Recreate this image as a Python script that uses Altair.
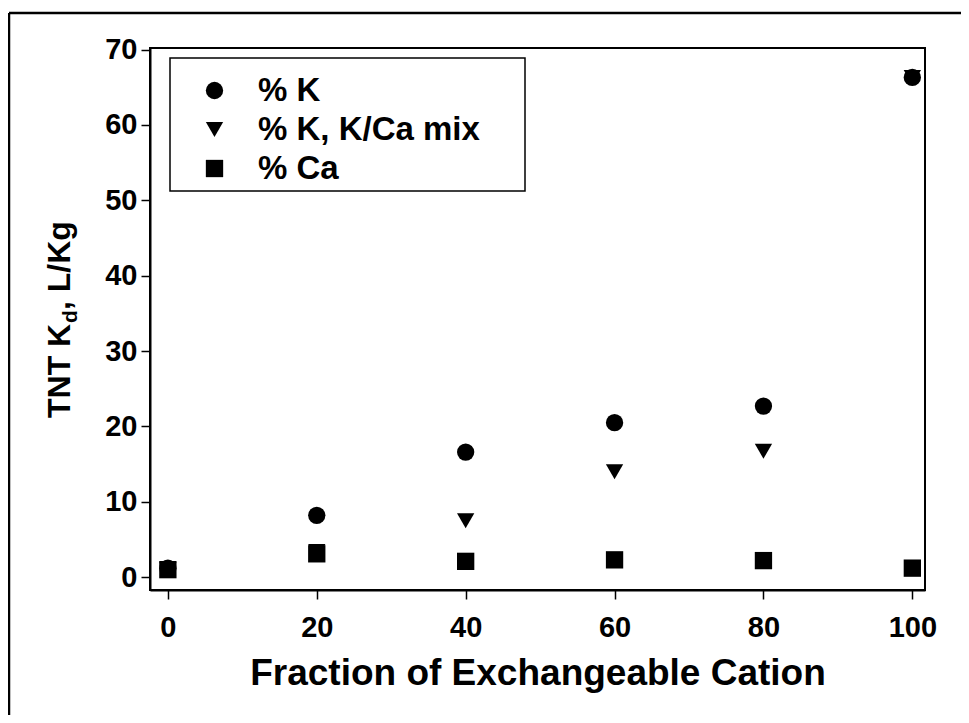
import altair as alt
import pandas as pd

# ---- data ----
fraction = [0, 20, 40, 60, 80, 100]
pct_k = [1.2, 8.2, 16.6, 20.5, 22.7, 66.3]
pct_k_mix = [1.0, 3.4, 7.5, 14.0, 16.7, 66.3]
pct_ca = [1.0, 3.1, 2.1, 2.3, 2.2, 1.2]
series_names = ["% K", "% K, K/Ca mix", "% Ca"]
series_shapes = ["circle", "triangle-down", "square"]
x_ticks = [0, 20, 40, 60, 80, 100]
y_ticks = [0, 10, 20, 30, 40, 50, 60, 70]

rows = []
for name, vals in zip(series_names, [pct_k, pct_k_mix, pct_ca]):
    for f, v in zip(fraction, vals):
        rows.append({"fraction": f, "kd": v, "series": name})
df = pd.DataFrame(rows)

FONT = "Liberation Sans"
W, H = 775, 542

points = alt.Chart(df).mark_point(filled=True, opacity=1, size=300, color="black").encode(
    x=alt.X("fraction:Q",
            scale=alt.Scale(domain=[-2.4, 101.7], nice=False, zero=False),
            axis=alt.Axis(values=x_ticks, title="Fraction of Exchangeable Cation",
                          titleFontSize=37, titlePadding=13)),
    y=alt.Y("kd:Q",
            scale=alt.Scale(domain=[-1.7, 70.2], nice=False, zero=False),
            axis=alt.Axis(values=y_ticks, title=None)),
    shape=alt.Shape("series:N",
                    scale=alt.Scale(domain=series_names, range=series_shapes),
                    legend=alt.Legend(title=None, orient="none", legendX=20, legendY=10)),
)

one = pd.DataFrame({"a": [0]})
# legend frame (wider than the legend's own content, as in the reference)
legend_box = alt.Chart(one).mark_rect(fill="white", fillOpacity=0, stroke="black", strokeWidth=1.5).encode(
    x=alt.value(20), x2=alt.value(375), y=alt.value(10), y2=alt.value(143))

frame_top = alt.Chart(one).mark_rule(color="black", strokeWidth=2.5).encode(
    x=alt.value(-141), x2=alt.value(W + 36), y=alt.value(-35))
frame_left = alt.Chart(one).mark_rule(color="black", strokeWidth=2.5).encode(
    x=alt.value(-141), y=alt.value(-35), y2=alt.value(H + 125))

title_main = alt.Chart(one).mark_text(angle=270, align="left", baseline="alphabetic",
                                      font=FONT, fontWeight="bold", fontSize=32, color="black").encode(
    x=alt.value(-80), y=alt.value(370), text=alt.value("TNT K"))
title_sub = alt.Chart(one).mark_text(angle=270, align="left", baseline="alphabetic",
                                     font=FONT, fontWeight="bold", fontSize=21, color="black").encode(
    x=alt.value(-73), y=alt.value(275), text=alt.value("d"))
title_rest = alt.Chart(one).mark_text(angle=270, align="left", baseline="alphabetic",
                                      font=FONT, fontWeight="bold", fontSize=32, color="black").encode(
    x=alt.value(-80), y=alt.value(262), text=alt.value(", L/Kg"))

chart = alt.layer(legend_box, points, frame_top, frame_left, title_main, title_sub, title_rest).properties(
    width=W, height=H,
    autosize=alt.AutoSizeParams(type="none"),
    padding={"left": 142, "top": 40, "right": 36, "bottom": 125},
    background="white",
).configure_view(
    stroke="black", strokeWidth=2
).configure_axis(
    domainColor="black", domainWidth=2, tickColor="black", tickWidth=1.5, tickSize=9,
    labelFont=FONT, labelFontSize=29, labelFontWeight="bold", labelColor="black",
    titleFont=FONT, titleFontWeight="bold", titleColor="black",
    grid=False, labelPadding=4,
).configure_axisX(
    labelPadding=14,
).configure_legend(
    padding=16, symbolSize=300, symbolFillColor="black",
    symbolStrokeColor="black", symbolOffset=12, labelOffset=27,
    labelFont=FONT, labelFontSize=33, labelFontWeight="bold", labelColor="black",
    rowPadding=5, labelLimit=600,
)

chart.save("out.html", embed_options={"renderer": "svg", "actions": False})
